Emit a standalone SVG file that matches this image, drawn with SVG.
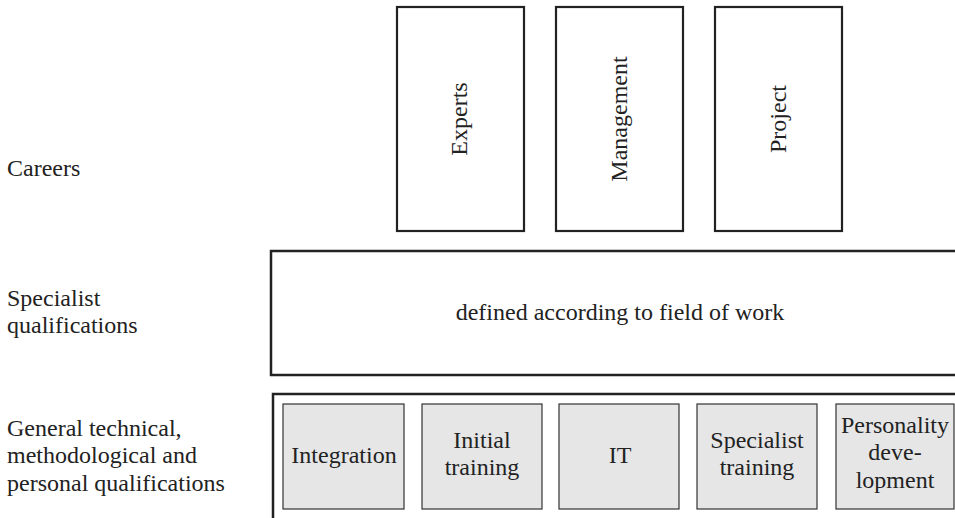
<svg xmlns="http://www.w3.org/2000/svg" width="955" height="518" viewBox="0 0 955 518">
<style>
text { font-family: "Liberation Serif", "Times New Roman", serif; font-size: 24px; fill: #222; }
.c { text-anchor: middle; }
.career { fill: #fff; stroke: #222; stroke-width: 2.2; }
.frame { fill: none; stroke: #222; stroke-width: 2.5; }
.mod { fill: #e6e6e7; stroke: #333; stroke-width: 1.2; }
</style>
<rect width="955" height="518" fill="#fff"/>
<g id="labels">
  <text x="7" y="176">Careers</text>
  <text x="7" y="306">Specialist</text>
  <text x="7" y="333">qualifications</text>
  <text x="7" y="436">General technical,</text>
  <text x="7" y="463">methodological and</text>
  <text x="7" y="491">personal qualifications</text>
</g>
<g id="experts">
  <rect class="career" x="397" y="7" width="127" height="224"/>
  <text class="c" transform="translate(467,119) rotate(-90)">Experts</text>
</g>
<g id="management">
  <rect class="career" x="556" y="7" width="127" height="224"/>
  <text class="c" transform="translate(627,119) rotate(-90)">Management</text>
</g>
<g id="project">
  <rect class="career" x="715" y="7" width="127" height="224"/>
  <text class="c" transform="translate(786,119) rotate(-90)">Project</text>
</g>
<g id="specialist-qualifications">
  <rect class="frame" x="271" y="251" width="720" height="124"/>
  <text class="c" x="620" y="320">defined according to field of work</text>
</g>
<g id="general-qualifications">
  <path class="frame" d="M273 520 V394 H960"/>
</g>
<g id="integration">
  <rect class="mod" x="283" y="404" width="121" height="105"/>
  <text class="c" x="344" y="463">Integration</text>
</g>
<g id="initial-training">
  <rect class="mod" x="422" y="404" width="120" height="105"/>
  <text class="c" x="482" y="448">Initial</text>
  <text class="c" x="482" y="475">training</text>
</g>
<g id="it">
  <rect class="mod" x="559" y="404" width="120" height="105"/>
  <text class="c" x="620" y="463">IT</text>
</g>
<g id="specialist-training">
  <rect class="mod" x="697" y="404" width="120" height="105"/>
  <text class="c" x="757" y="448">Specialist</text>
  <text class="c" x="757" y="475">training</text>
</g>
<g id="personality-development">
  <rect class="mod" x="836" y="404" width="118" height="105"/>
  <text class="c" x="895" y="433">Personality</text>
  <text class="c" x="895" y="460">deve-</text>
  <text class="c" x="895" y="488">lopment</text>
</g>
<g id="connectors"></g>
</svg>
